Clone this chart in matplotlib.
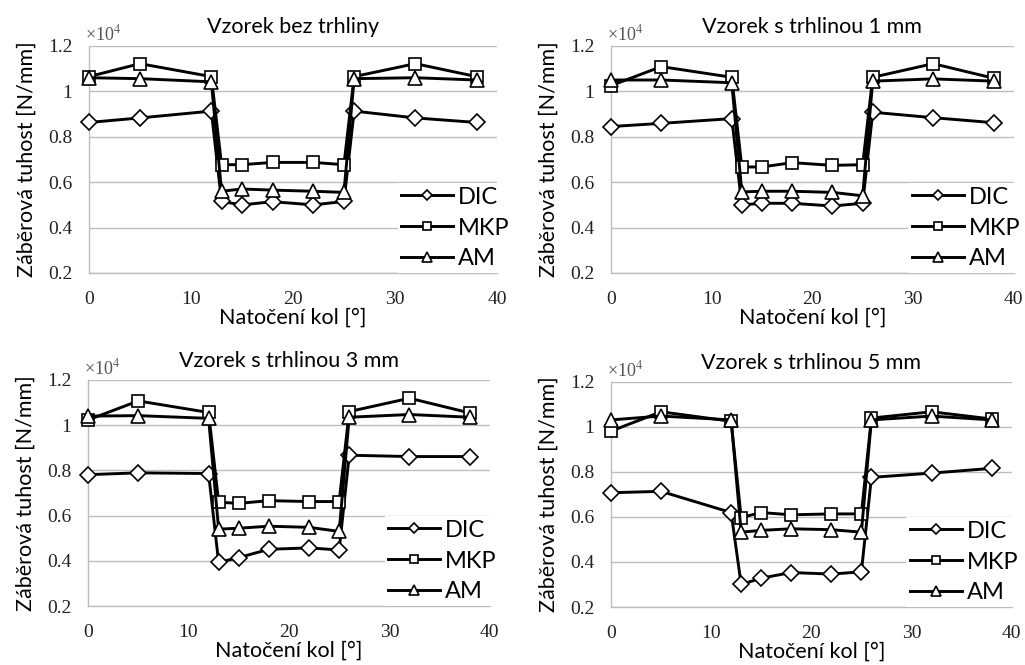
import matplotlib
matplotlib.use("Agg")
import matplotlib.pyplot as plt
from matplotlib.ticker import FuncFormatter, FixedLocator

plt.rcParams["font.family"] = "serif"
plt.rcParams["font.serif"] = ["Liberation Serif", "DejaVu Serif"]
plt.rcParams["mathtext.fontset"] = "stix"

# Natočení kol [°]
angles = [0, 5, 12, 13, 15, 18, 22, 25, 26, 32, 38]

titles = ["Vzorek bez trhliny", "Vzorek s trhlinou 1 mm",
          "Vzorek s trhlinou 3 mm", "Vzorek s trhlinou 5 mm"]

# Záběrová tuhost [N/mm]
dic_0 = [8630, 8830, 9130, 5150, 5000, 5140, 5000, 5150, 9130, 8830, 8630]
mkp_0 = [10650, 11220, 10650, 6770, 6770, 6870, 6870, 6770, 10650, 11220, 10650]
am_0 = [10600, 10560, 10420, 5600, 5700, 5650, 5600, 5550, 10560, 10600, 10500]

dic_1 = [8450, 8590, 8800, 5000, 5070, 5070, 4950, 5070, 9080, 8840, 8620]
mkp_1 = [10250, 11090, 10620, 6670, 6670, 6860, 6740, 6770, 10620, 11220, 10580]
am_1 = [10500, 10500, 10380, 5570, 5600, 5600, 5550, 5400, 10450, 10550, 10450]

dic_3 = [7810, 7890, 7860, 3930, 4140, 4510, 4570, 4480, 8670, 8610, 8610]
mkp_3 = [10230, 11070, 10560, 6590, 6540, 6660, 6620, 6620, 10600, 11190, 10540]
am_3 = [10400, 10420, 10300, 5400, 5440, 5530, 5480, 5300, 10350, 10470, 10350]

dic_5 = [7070, 7130, 6190, 3000, 3280, 3530, 3460, 3560, 7750, 7940, 8150]
mkp_5 = [9800, 10660, 10240, 5970, 6190, 6090, 6130, 6130, 10380, 10660, 10340]
am_5 = [10300, 10470, 10300, 5320, 5400, 5470, 5430, 5320, 10300, 10470, 10300]

series = [(dic_0, mkp_0, am_0), (dic_1, mkp_1, am_1),
          (dic_3, mkp_3, am_3), (dic_5, mkp_5, am_5)]
labels = ["DIC", "MKP", "AM"]
markers = ["D", "s", "^"]
msizes = [8.5, 9, 10.5]

yticks = [2000, 4000, 6000, 8000, 10000, 12000]
xticks = [0, 10, 20, 30, 40]

positions = [
    [0.0868, 0.5895, 0.398, 0.3414],
    [0.596, 0.5895, 0.393, 0.3414],
    [0.0859, 0.0887, 0.392, 0.340],
    [0.596, 0.0872, 0.391, 0.339],
]
legend_x = [1.04, 1.025, 1.025, 1.025]

sans = ["Lato", "DejaVu Sans"]

fig = plt.figure(figsize=(10.25, 6.65), dpi=100)
grid_col = "#bdbdbd"

for i, pos in enumerate(positions):
    ax = fig.add_axes(pos)
    for vals, lab, mk, ms in zip(series[i], labels, markers, msizes):
        ax.plot(angles, vals, color="black", lw=2.1, marker=mk, ms=ms,
                mfc="white", mec="black", mew=1.2, label=lab, zorder=3,
                clip_on=False)
    ax.set_xlim(0, 40)
    ax.set_ylim(2000, 12000)
    ax.yaxis.set_major_locator(FixedLocator(yticks))
    ax.xaxis.set_major_locator(FixedLocator(xticks))
    ax.yaxis.set_major_formatter(FuncFormatter(lambda v, p: "%g" % (v / 1e4)))
    ax.grid(axis="y", color=grid_col, lw=1.0)
    ax.set_axisbelow(True)
    for s in ["top", "right"]:
        ax.spines[s].set_visible(False)
    for s in ["left", "bottom"]:
        ax.spines[s].set_color(grid_col)
        ax.spines[s].set_linewidth(1.0)
    ax.tick_params(length=0, labelsize=14, colors="#222222")
    ax.tick_params(axis="y", pad=12)
    ax.tick_params(axis="x", pad=13)
    ax.text(-0.01, 1.005, "×10$^4$", transform=ax.transAxes, ha="left",
            va="bottom", fontsize=13, color="#555555")
    ax.set_title(titles[i], fontsize=15.5, family=sans, pad=9)
    ax.set_xlabel("Natočení kol [°]", fontsize=15.5, family=sans, labelpad=0)
    ax.set_ylabel("Záběrová tuhost [N/mm]", fontsize=15.5, family=sans,
                  labelpad=8)
    ax.legend(loc="lower right", bbox_to_anchor=(legend_x[i], 0.0),
              borderaxespad=0.0, frameon=True,
              fancybox=False, edgecolor="none", framealpha=1.0,
              prop={"family": sans, "size": 17}, handlelength=2.2,
              handletextpad=0.2, labelspacing=0.42, borderpad=0.15,
              markerscale=0.65)

fig.savefig("out.png", dpi=100)
